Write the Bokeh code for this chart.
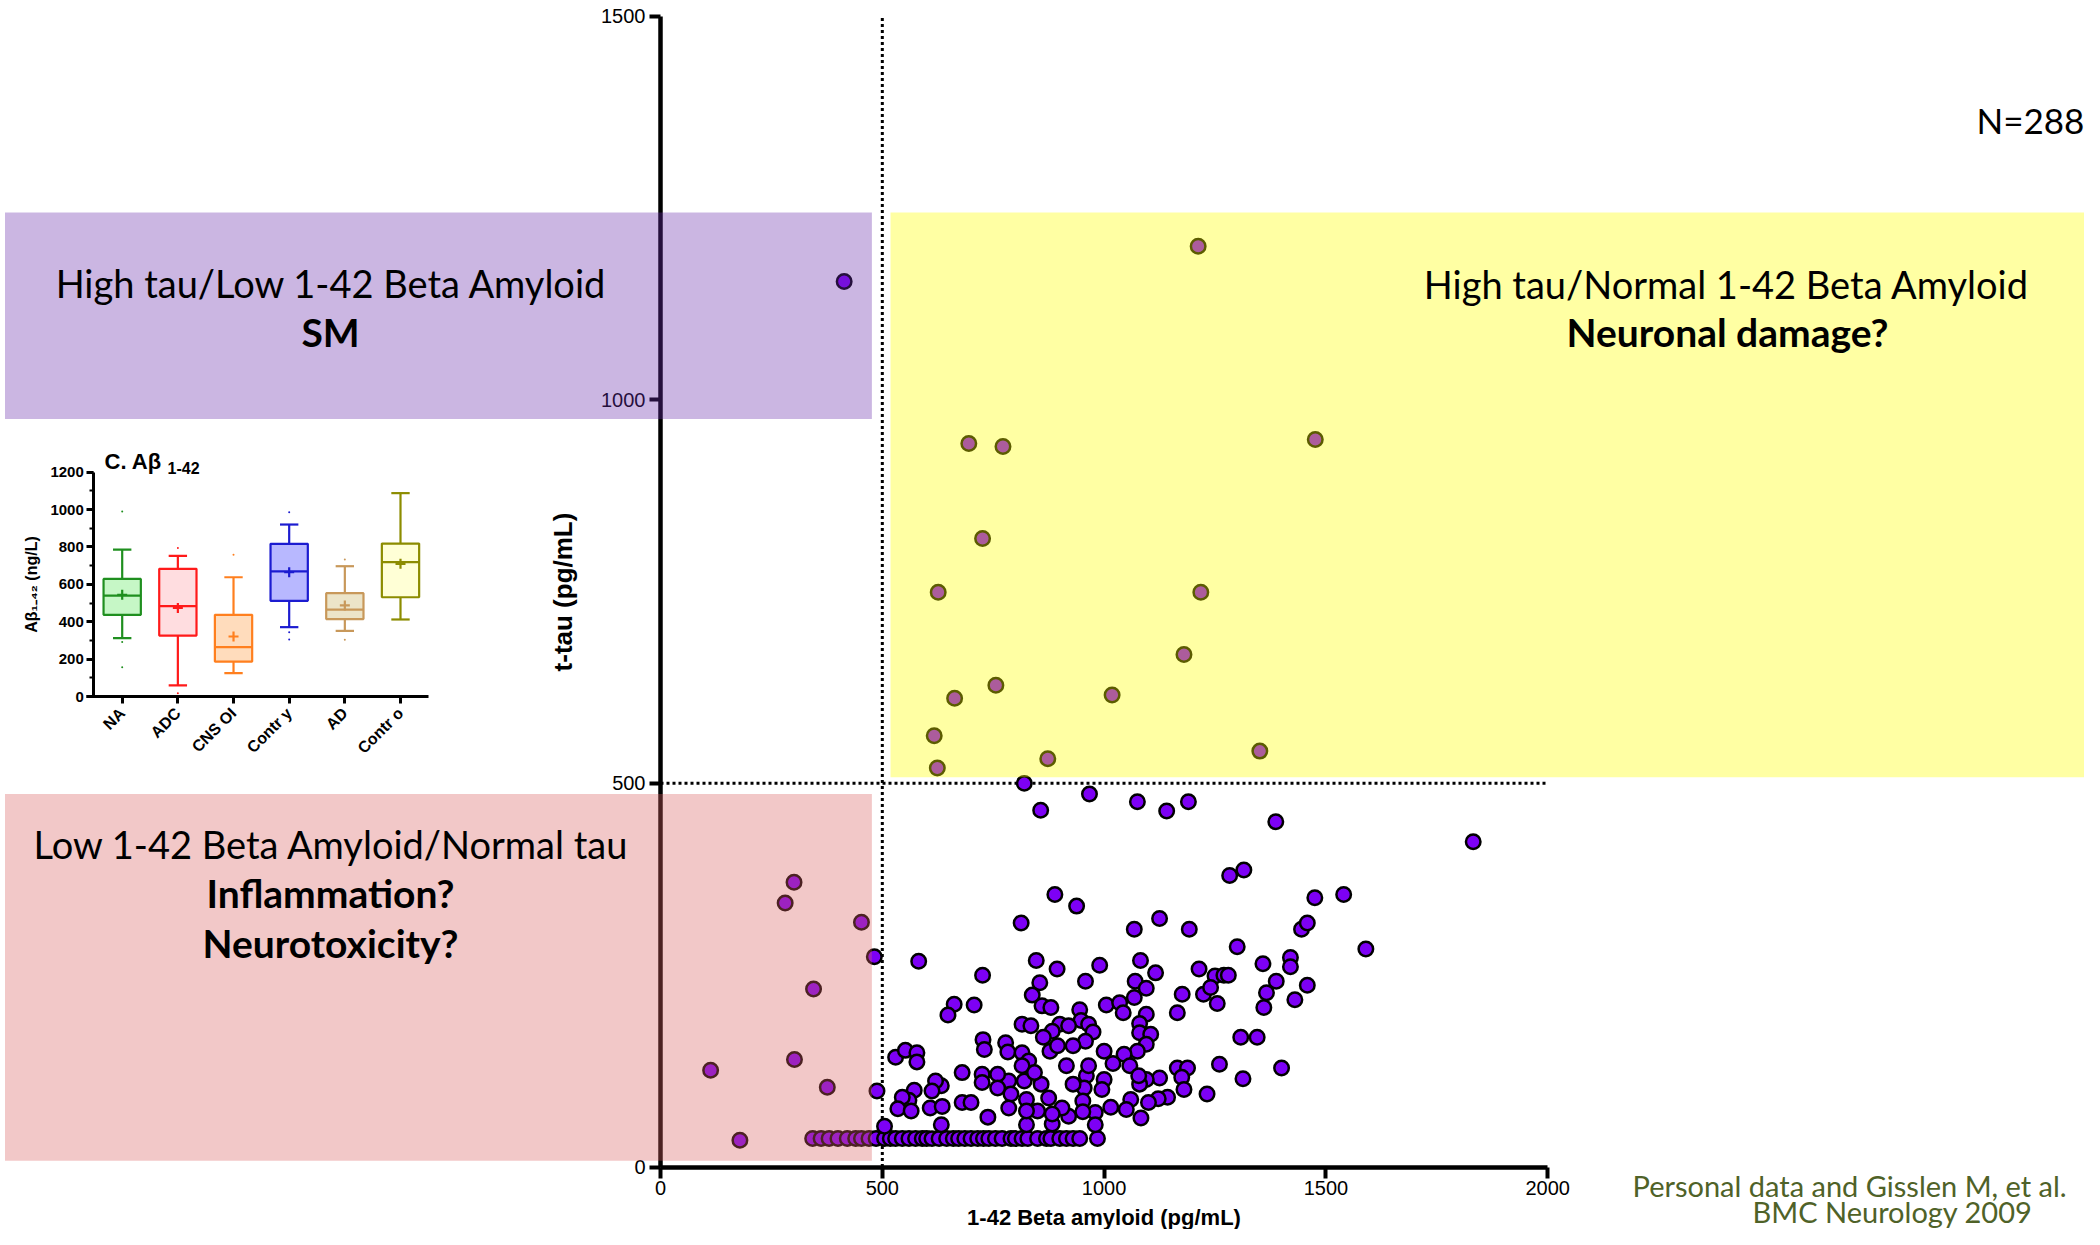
import math
from bokeh.plotting import figure
from bokeh.models import Range1d, LinearAxis, SingleIntervalTicker, FixedTicker
from bokeh.core.properties import value
from bokeh.embed import file_html
from bokeh.resources import INLINE

# ---------------- data: main scatter (1-42 beta amyloid vs t-tau, pg/mL) ----------------
upper_abeta = [414, 1212, 695, 772, 1476, 726, 626, 1218, 1180, 756, 663, 1018, 617, 873, 1351, 624]
upper_tau = [1154, 1200, 943, 939, 948, 819, 749, 749, 668, 628, 611, 615, 562, 532, 542, 520]

edge_abeta = [820, 857, 967, 1075, 1141, 1190, 1387, 1832, 1590, 1540]
edge_tau = [500, 465, 486, 476, 464, 476, 450, 424, 284, 355]

low_abeta = [301, 281, 453, 482, 345, 302, 113, 376, 488, 179]
low_tau = [371, 344, 319, 274, 232, 140, 126, 104, 99, 35]

floor_abeta = [343, 362, 380, 400, 421, 440, 453, 470, 486, 505, 518, 530, 545, 560, 575,
               590, 600, 612, 628, 645, 660, 672, 686, 700, 715, 728, 740, 755, 770, 790,
               800, 815, 828, 850, 870, 880, 900, 915, 930, 945, 985]
floor_tau = [37] * len(floor_abeta)

cluster_abeta = [1283, 1315, 889, 938, 1475, 813, 1068, 1125, 1192, 1445,
                 1458, 1300, 582, 847, 894, 726, 990, 1082, 1116, 1214,
                 1250, 1270, 1280, 1358, 1420, 1420, 1388, 1458, 855, 958,
                 1070, 1095, 1176, 1224, 1240, 1255, 1366, 1430, 1360, 1165,
                 838, 860, 880, 1005, 1035, 1043, 1068, 1095, 945, 948,
                 1080, 1080, 1105, 1095, 1075, 1045, 1058, 1000, 1020, 965,
                 975, 958, 930, 900, 920, 883, 863, 878, 895, 815,
                 835, 662, 707, 648, 530, 552, 578, 578, 727, 730,
                 778, 783, 815, 830, 815, 1308, 1345, 1260, 1313, 1400,
                 1165, 1188, 1175, 1180, 1232, 1125, 1095, 1080, 1078, 1143,
                 1122, 1100, 1060, 1050, 1083, 1015, 1000, 995, 960, 955,
                 930, 915, 965, 980, 980, 952, 952, 920, 905, 883,
                 883, 875, 858, 850, 825, 825, 825, 820, 843, 785,
                 790, 785, 760, 760, 725, 725, 738, 680, 680, 700,
                 633, 620, 612, 608, 635, 633, 572, 560, 545, 535,
                 565, 505]
cluster_tau = [380, 387, 355, 340, 351, 318, 310, 324, 310, 310,
               318, 287, 268, 269, 258, 250, 263, 269, 253, 258,
               249, 250, 250, 265, 273, 261, 242, 237, 240, 242,
               242, 233, 225, 225, 234, 213, 227, 218, 208, 201,
               224, 210, 208, 211, 214, 201, 221, 199, 205, 191,
               187, 175, 173, 160, 151, 147, 132, 151, 135, 186,
               176, 164, 158, 186, 184, 177, 169, 151, 158, 186,
               184, 212, 211, 198, 143, 152, 149, 137, 166, 153,
               162, 150, 149, 138, 132, 169, 169, 134, 115, 129,
               129, 129, 117, 101, 95, 116, 114, 108, 119, 91,
               89, 84, 88, 75, 64, 78, 114, 101, 119, 103,
               108, 132, 132, 71, 55, 86, 72, 66, 77, 56,
               69, 90, 108, 73, 88, 55, 73, 112, 123, 112,
               95, 77, 121, 103, 121, 110, 65, 123, 84, 84,
               106, 112, 99, 77, 79, 55, 100, 87, 91, 76,
               73, 53]

abeta = upper_abeta + edge_abeta + low_abeta + floor_abeta + cluster_abeta
tau = upper_tau + edge_tau + low_tau + floor_tau + cluster_tau
assert len(abeta) == len(tau)

abeta_cut = 500
tau_cut = 500
x_ticks_max = 2000
y_ticks_max = 1500

# ---------------- data: inset box plot (C. Abeta 1-42, ng/L) ----------------
groups = ["NA", "ADC", "CNS OI", "Contr y", "AD", "Contr o"]
whisk_hi = [786, 752, 638, 920, 697, 1088]
q3 = [629, 683, 437, 817, 553, 818]
median = [540, 483, 264, 669, 465, 719]
q1 = [437, 326, 187, 512, 414, 531]
whisk_lo = [312, 59, 125, 371, 351, 412]
means = [544, 474, 321, 665, 487, 710]
outlier_group = [1, 1, 1, 2, 2, 3, 4, 4, 4, 5, 5]
outlier_val = [990, 291, 157, 795, 18, 758, 986, 344, 305, 733, 303]
line_colors = ["#1f8f1f", "#ff1a1a", "#ff7f1e", "#1c1cd0", "#c8985a", "#8c8c00"]
fill_colors = ["#c6f7c6", "#ffdde0", "#ffdcbc", "#b8b8ff", "#ece4c8", "#ffffd6"]

# ---------------- geometry ----------------
W, H = 2084, 1229
X0, XS = 660.0, 0.44362      # px of x=0, px per unit
Y0, YS = 1166.5, 0.7673
IX0, IXS = 66.04, 55.66       # inset
IY0, IYS = 696.0, 0.18692


def dx(px):
    return (px - X0) / XS


def dy(py):
    return (Y0 - py) / YS


def ix(px):
    return (px - IX0) / IXS


def iy(py):
    return (IY0 - py) / IYS


p = figure(width=W, height=H,
           x_range=Range1d(dx(0), dx(W)),
           y_range=Range1d(dy(H), dy(0)),
           x_axis_type=None, y_axis_type=None,
           toolbar_location=None, output_backend="svg",
           min_border=0, outline_line_color=None)
p.xgrid.visible = False
p.ygrid.visible = False
p.extra_x_ranges = {"ix": Range1d(ix(0), ix(W))}
p.extra_y_ranges = {"iy": Range1d(iy(H), iy(0))}

# ---------------- main axes ----------------
tick_font = "Liberation Sans"
xa = LinearAxis(fixed_location=0, bounds=(0, x_ticks_max),
                ticker=SingleIntervalTicker(interval=500, num_minor_ticks=0),
                axis_label="1-42 Beta amyloid (pg/mL)")
ya = LinearAxis(fixed_location=0, bounds=(0, y_ticks_max),
                ticker=SingleIntervalTicker(interval=500, num_minor_ticks=0),
                axis_label="t-tau (pg/mL)")
for ax in (xa, ya):
    ax.axis_line_width = 4.5
    ax.axis_line_color = "black"
    ax.major_tick_line_width = 4
    ax.major_tick_out = 11
    ax.major_tick_in = 0
    ax.minor_tick_line_color = None
    ax.major_label_text_font = tick_font
    ax.major_label_text_font_size = "20px"
    ax.major_label_text_color = "black"
    ax.major_label_standoff = 4
    ax.axis_label_text_font = tick_font
    ax.axis_label_text_font_style = "bold"
    ax.axis_label_text_color = "black"
xa.major_label_standoff = 3
xa.axis_label_text_font_size = "22px"
xa.axis_label_standoff = 6
ya.axis_label_text_font_size = "26px"
ya.axis_label_standoff = 20
p.add_layout(xa, "below")
p.add_layout(ya, "left")

# threshold dotted lines
p.segment(x0=[abeta_cut], y0=[0], x1=[abeta_cut], y1=[y_ticks_max],
          line_color="black", line_width=3, line_dash="3 3")
p.segment(x0=[0], y0=[tau_cut], x1=[x_ticks_max], y1=[tau_cut],
          line_color="black", line_width=3, line_dash="3 3")

# scatter points
p.scatter(x=abeta, y=tau, marker="circle", size=14.5,
          fill_color="#7d00f5", line_color="black", line_width=2.5)

# shaded quadrant boxes (drawn over points and axis)
BOX_ALPHA = 0.35
p.quad(left=[dx(4.5)], right=[476.5], bottom=[975], top=[1244],
       fill_color="#6a2eac", fill_alpha=BOX_ALPHA, line_color=None, level="overlay")
p.quad(left=[518.5], right=[dx(2200)], bottom=[508], top=[1244],
       fill_color="#ffff00", fill_alpha=0.36, line_color=None, level="overlay")
p.quad(left=[dx(4.5)], right=[476.5], bottom=[8], top=[486],
       fill_color="#da6262", fill_alpha=BOX_ALPHA, line_color=None, level="overlay")

big_font = value("Lato")


def label(px, py, txt, size=38, bold=False, align="center", color="black"):
    # py is the wanted visual baseline; compensate the renderer's baseline shift
    shift = 0.39 * size
    p.text(x=[dx(px)], y=[dy(py - shift)], text=[txt], text_font=big_font,
           text_font_size=f"{size}px", text_font_style="bold" if bold else "normal",
           text_align=align, text_baseline="alphabetic", text_color=color,
           level="overlay")


label(331, 297, "High tau/Low 1-42 Beta Amyloid")
label(330, 347, "SM", size=39, bold=True)
label(1726, 298, "High tau/Normal 1-42 Beta Amyloid")
label(1727, 347, "Neuronal damage?", size=39, bold=True)
label(331, 858, "Low 1-42 Beta Amyloid/Normal tau")
label(330, 908, "Inflammation?", size=39, bold=True)
label(330, 958, "Neurotoxicity?", size=39, bold=True)
label(1976, 133, "N=288", size=35, align="left")
label(1632, 1196, "Personal data and Gisslen M, et al.", size=29, align="left", color="#4f6228")
label(1892, 1222, "BMC Neurology 2009", size=29, color="#4f6228")

# ---------------- inset box plot ----------------
pos = list(range(1, len(groups) + 1))
R = dict(x_range_name="ix", y_range_name="iy")
half_box = 0.335
half_cap = 0.165
p.segment(x0=pos, y0=q3, x1=pos, y1=whisk_hi, line_color=line_colors, line_width=2.2, **R)
p.segment(x0=pos, y0=q1, x1=pos, y1=whisk_lo, line_color=line_colors, line_width=2.2, **R)
p.segment(x0=[v - half_cap for v in pos], y0=whisk_hi, x1=[v + half_cap for v in pos], y1=whisk_hi,
          line_color=line_colors, line_width=2.2, **R)
p.segment(x0=[v - half_cap for v in pos], y0=whisk_lo, x1=[v + half_cap for v in pos], y1=whisk_lo,
          line_color=line_colors, line_width=2.2, **R)
p.quad(left=[v - half_box for v in pos], right=[v + half_box for v in pos], bottom=q1, top=q3,
       fill_color=fill_colors, line_color=line_colors, line_width=2.2, **R)
p.segment(x0=[v - half_box for v in pos], y0=median, x1=[v + half_box for v in pos], y1=median,
          line_color=line_colors, line_width=2.2, **R)
p.scatter(x=pos, y=means, marker="cross", size=10, line_color=line_colors, line_width=2.2, **R)
p.scatter(x=outlier_group, y=outlier_val, marker="circle", size=2,
          fill_color=[line_colors[g - 1] for g in outlier_group], line_color=None, **R)

iya = LinearAxis(fixed_location=ix(93.3), bounds=(0, 1200),
                 ticker=SingleIntervalTicker(interval=200, num_minor_ticks=2),
                 axis_label="A\u03b2\u2081\u208b\u2084\u2082 (ng/L)", **R)
ixa = LinearAxis(fixed_location=0, bounds=(ix(86), 6.5),
                 ticker=FixedTicker(ticks=pos),
                 major_label_overrides={v: g for v, g in zip(pos, groups)}, **R)
for ax in (iya, ixa):
    ax.axis_line_width = 3
    ax.axis_line_color = "black"
    ax.major_tick_line_width = 3
    ax.major_tick_out = 7
    ax.major_tick_in = 0
    ax.major_label_text_font = tick_font
    ax.major_label_text_font_style = "bold"
    ax.major_label_text_font_size = "15px"
    ax.major_label_text_color = "black"
    ax.major_label_standoff = 3
    ax.axis_label_text_font = tick_font
    ax.axis_label_text_font_style = "bold"
    ax.axis_label_text_font_size = "16px"
    ax.axis_label_text_color = "black"
iya.minor_tick_line_width = 2
iya.minor_tick_out = 4
iya.minor_tick_in = 0
iya.axis_label_standoff = 7
ixa.minor_tick_line_color = None
ixa.major_label_orientation = math.pi / 4
ixa.major_label_text_font_size = "16px"
ixa.major_label_standoff = 7
p.add_layout(iya, "left")
p.add_layout(ixa, "below")

p.text(x=[ix(104)], y=[iy(461)], text=["C. A\u03b2"], text_font=value(tick_font),
       text_font_style="bold", text_font_size="22px", text_align="left",
       text_baseline="alphabetic", **R)
p.text(x=[ix(167)], y=[iy(467)], text=["1-42"], text_font=value(tick_font),
       text_font_style="bold", text_font_size="16px", text_align="left",
       text_baseline="alphabetic", **R)

open("out.html", "w").write(file_html(p, INLINE))
